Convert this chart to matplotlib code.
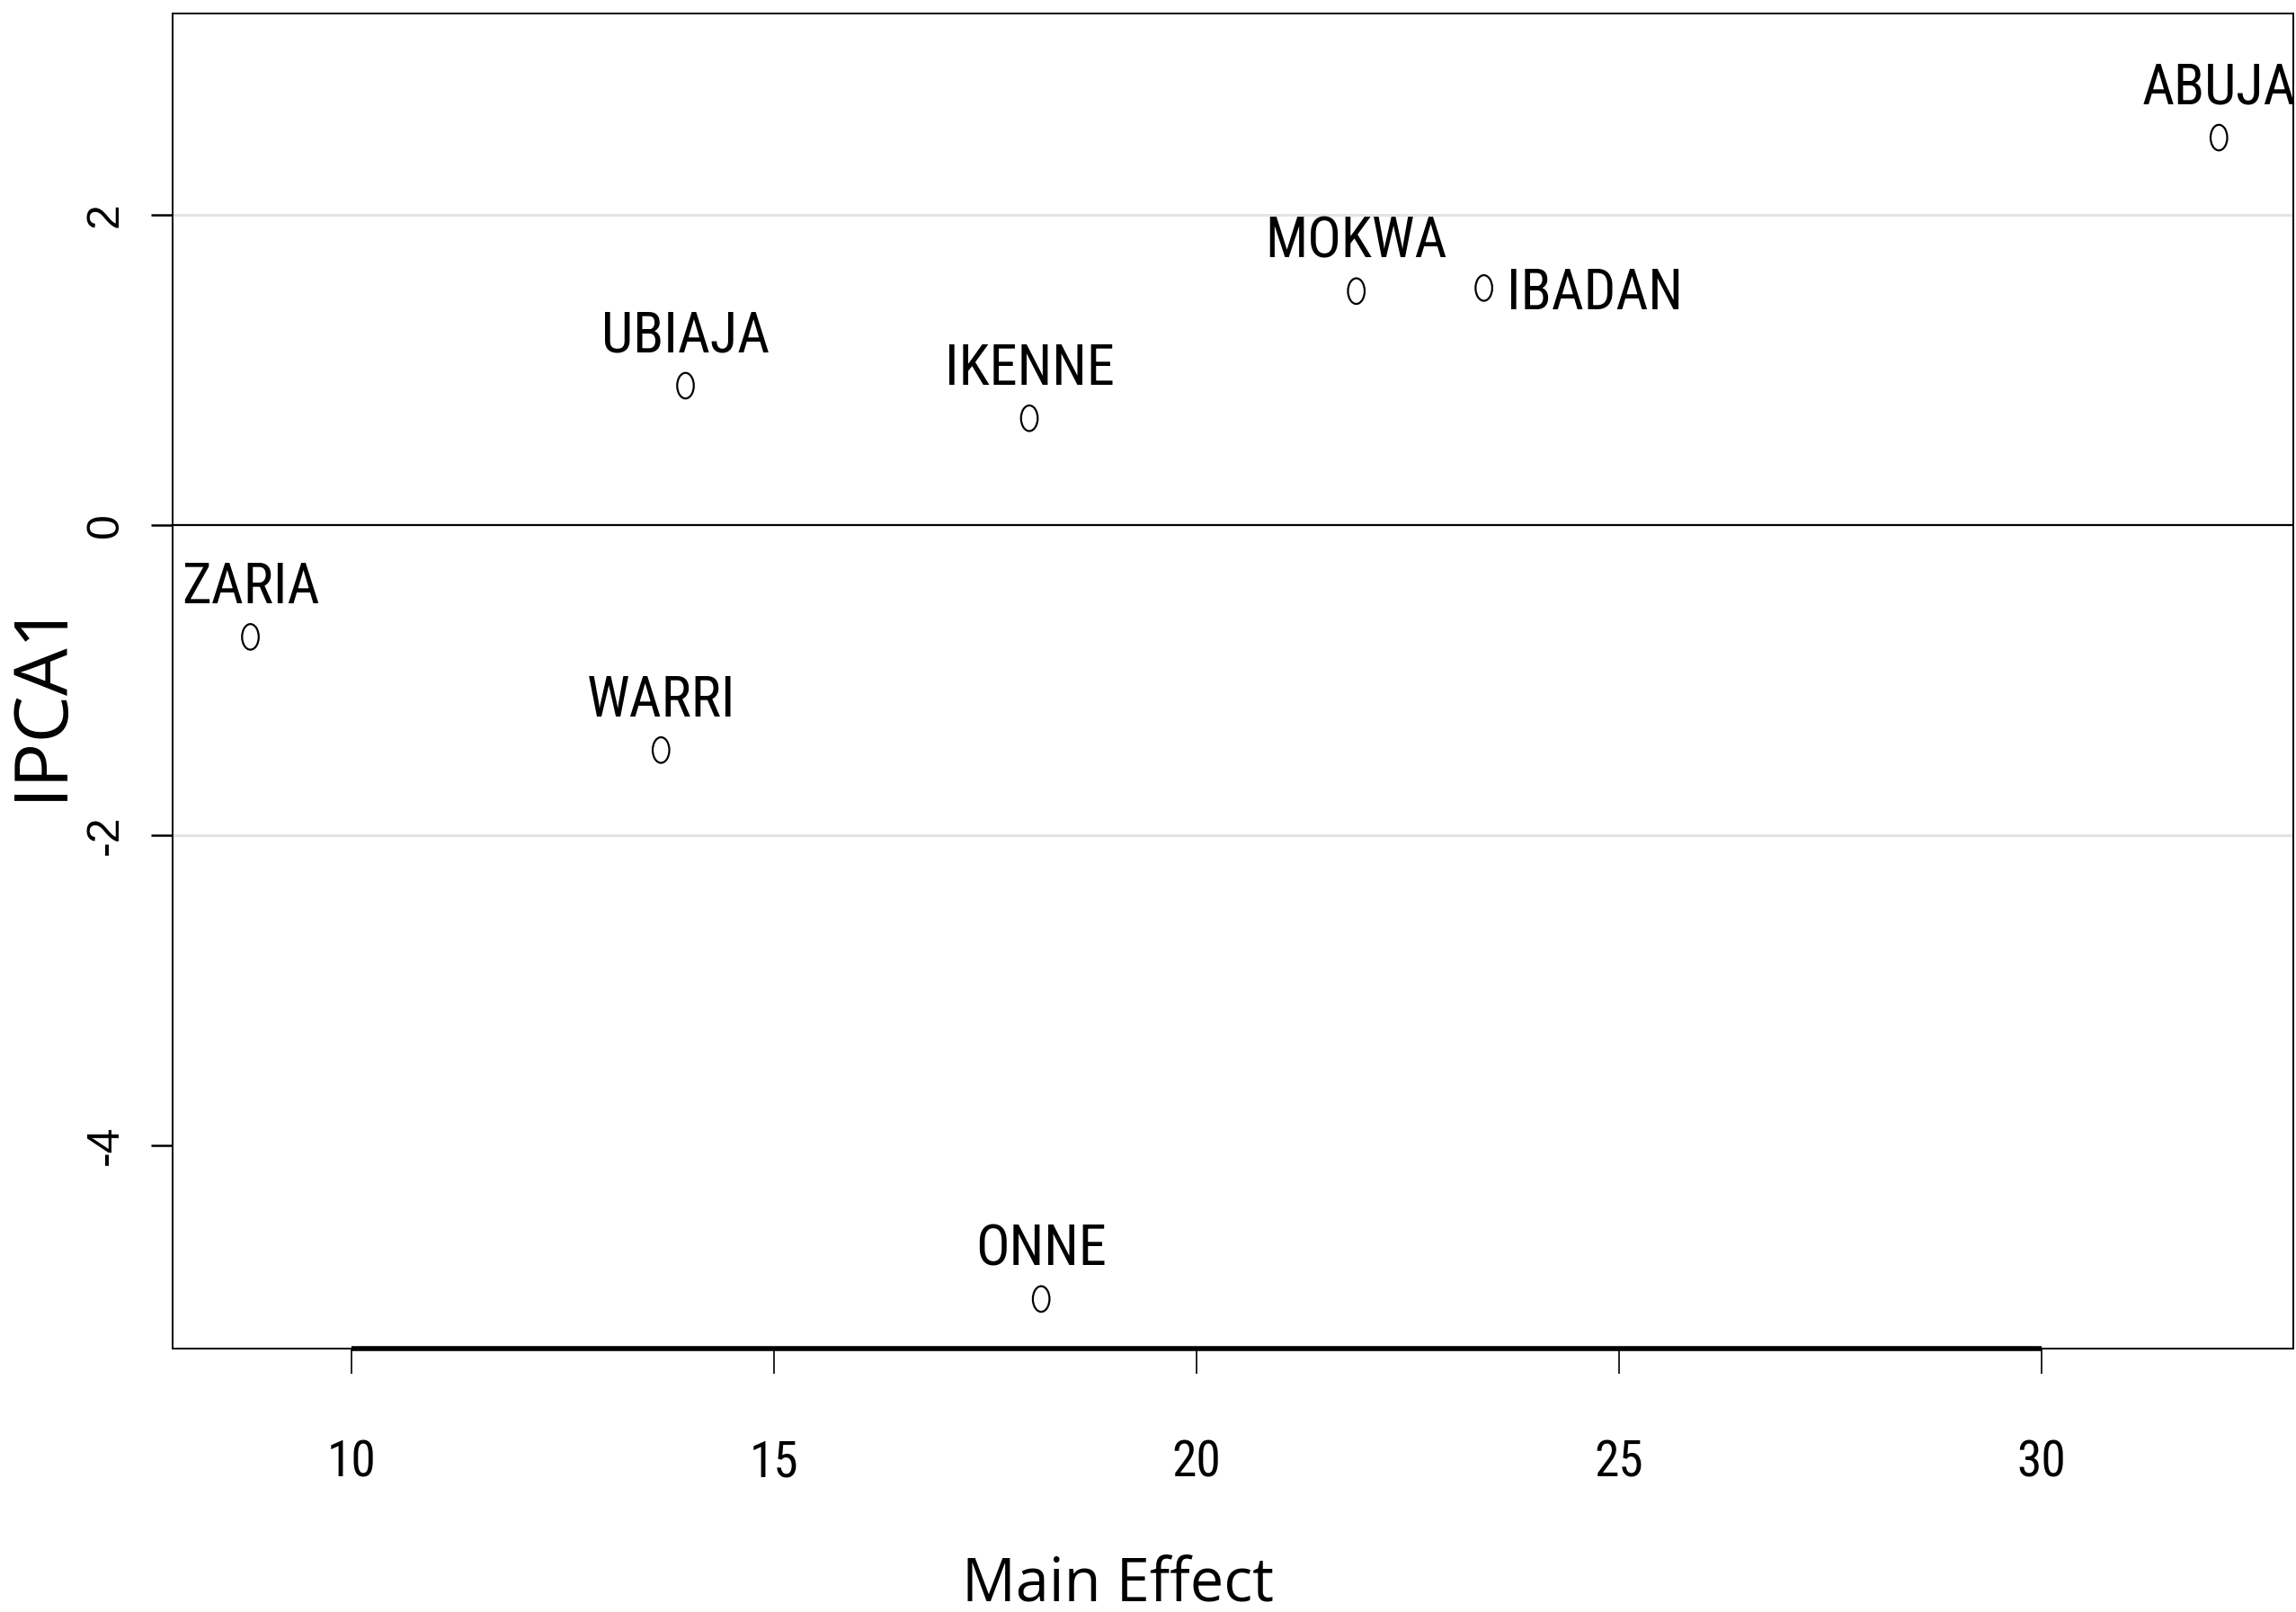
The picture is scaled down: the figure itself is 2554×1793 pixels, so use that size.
import matplotlib
matplotlib.use("Agg")
import matplotlib.pyplot as plt
from matplotlib import font_manager
from matplotlib.path import Path
from matplotlib.transforms import Affine2D

# ---- data ----
locations = ["ABUJA", "MOKWA", "IBADAN", "UBIAJA", "IKENNE", "ZARIA", "WARRI", "ONNE"]
main_effect = [32.10, 21.89, 23.40, 13.95, 18.02, 8.80, 13.66, 18.16]
ipca1 = [2.50, 1.51, 1.53, 0.90, 0.69, -0.72, -1.45, -4.99]
label_side = ["top", "top", "right", "top", "top", "top", "top", "top"]
xticks = [10, 15, 20, 25, 30]
yticks = [-4, -2, 0, 2]
grid_y = [-2, 2]

# find a condensed / narrow sans font if one is installed
cands = []
for f in font_manager.fontManager.ttflist:
    nm = f.name.lower()
    fn = f.fname.lower()
    if ("narrow" in nm or "condensed" in nm or "narrow" in fn or "condensed" in fn
            or str(f.stretch) in ("condensed", "semi-condensed", "extra-condensed")) \
            and f.style == "normal" and f.weight in (400, "normal", "regular") \
            and "mono" not in nm and "serif" not in nm.replace("sans", ""):
        cands.append(f)
narrow_fp = None
pref = ["liberation sans narrow", "roboto condensed", "open sans condensed", "dejavu sans"]
for p in pref:
    for f in cands:
        if f.name.lower().startswith(p) or p.replace(" ", "") in f.fname.lower().replace("-", "").replace("_", ""):
            narrow_fp = f
            break
    if narrow_fp:
        break
if narrow_fp is None and cands:
    narrow_fp = cands[0]

def nprops(size):
    if narrow_fp is not None:
        return font_manager.FontProperties(fname=narrow_fp.fname, size=size)
    return font_manager.FontProperties(family=["Roboto", "DejaVu Sans"], size=size)

fig = plt.figure(figsize=(25.54, 17.93), dpi=100)
ax = fig.add_axes([0.0752, 0.1634, 0.9988 - 0.0752, 0.9916 - 0.1634])

ax.set_xlim(7.88, 32.98)
ax.set_ylim(-5.31, 3.30)

for g in grid_y:
    ax.axhline(g, color="#e3e3e3", lw=2.2, zorder=0)
ax.axhline(0, color="black", lw=1.6, zorder=1)

circ = Path.unit_circle()
ell = Affine2D().scale(0.65, 1.0).transform_path(circ)
ax.scatter(main_effect, ipca1, marker=ell, s=420, facecolors="none",
           edgecolors="black", linewidths=1.6, zorder=3)

for name, x, y, side in zip(locations, main_effect, ipca1, label_side):
    if side == "top":
        ax.annotate(name, (x, y), xytext=(0, 27), textcoords="offset points",
                    ha="center", va="baseline", fontproperties=nprops(45))
    else:
        ax.annotate(name, (x, y), xytext=(18, 0), textcoords="offset points",
                    ha="left", va="center_baseline", fontproperties=nprops(45))

for s in ax.spines.values():
    s.set_linewidth(1.4)
    s.set_color("black")

ax.plot([xticks[0], xticks[-1]], [ax.get_ylim()[0]] * 2, color="black", lw=4,
        clip_on=False, solid_capstyle="butt", zorder=5)

ax.set_xticks(xticks)
ax.set_xticklabels([str(t) for t in xticks])
for lab in ax.get_xticklabels():
    lab.set_fontproperties(nprops(40))
ax.tick_params(axis="x", length=20, width=1.2, pad=52, direction="out")

ax.set_yticks(yticks)
ax.set_yticklabels([str(t) for t in yticks], fontsize=36, rotation=90,
                   va="center", family=["Liberation Sans", "DejaVu Sans"])
ax.tick_params(axis="y", length=17, width=1.8, pad=20, direction="out")

fig.text(47 / 2554, 1 - 777 / 1793, "IPCA1", rotation=90, ha="center", va="center",
         fontsize=60, family=["Open Sans", "DejaVu Sans"])
fig.text(1244 / 2554, 1 - 1763 / 1793, "Main Effect", ha="center", va="center",
         fontsize=48, family=["Open Sans", "DejaVu Sans"])

fig.savefig("out.png", dpi=100)
